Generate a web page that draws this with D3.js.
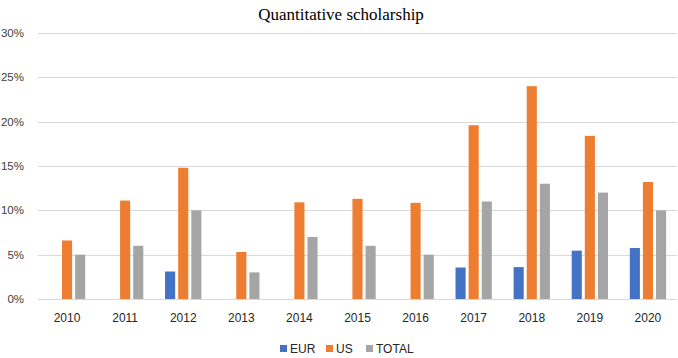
<!DOCTYPE html>
<html>
<head>
<meta charset="utf-8">
<script src="https://cdn.jsdelivr.net/npm/d3@7"></script>
<style>
  body { margin: 0; background: #fff; }
  svg text { font-family: "Liberation Sans", Arial, sans-serif; }
</style>
</head>
<body>
<svg id="chart" width="678" height="358"></svg>
<script>
// data
const years = ["2010", "2011", "2012", "2013", "2014", "2015", "2016", "2017", "2018", "2019", "2020"];
const seriesNames = ["EUR", "US", "TOTAL"];
const eurValues = [null, null, 3.1, null, null, null, null, 3.55, 3.6, 5.45, 5.75];
const usValues = [6.6, 11.1, 14.8, 5.3, 10.9, 11.3, 10.85, 19.6, 24.0, 18.4, 13.2];
const totalValues = [5, 6, 10, 3, 7, 6, 5, 11, 13, 12, 10];
const yTicks = [0, 5, 10, 15, 20, 25, 30];
const colors = ["#4472C4", "#ED7D31", "#A5A5A5"];

const rows = years.map((y, i) => ({
  year: y,
  EUR: eurValues[i],
  US: usValues[i],
  TOTAL: totalValues[i]
}));

const svg = d3.select("#chart");
const margin = { left: 38, right: 1, top: 33, bottom: 59 };
const width = 678 - margin.left - margin.right;
const height = 358 - margin.top - margin.bottom;

const g = svg.append("g").attr("transform", `translate(${margin.left},${margin.top})`);

const x0 = d3.scaleBand().domain(years).range([0, width]).paddingInner(0.375).paddingOuter(0.1875);
const x1 = d3.scaleBand().domain(seriesNames).range([0, x0.bandwidth()]).paddingInner(0.23);
const y = d3.scaleLinear().domain([0, 30]).range([height, 0]);
const color = d3.scaleOrdinal().domain(seriesNames).range(colors);

// gridlines
g.selectAll(".grid")
  .data(yTicks)
  .enter()
  .append("line")
  .attr("x1", 0)
  .attr("x2", width)
  .attr("y1", d => Math.round(y(d)) + 0.5)
  .attr("y2", d => Math.round(y(d)) + 0.5)
  .attr("stroke", "#d9d9d9")
  .attr("stroke-width", 1.2);

// y tick labels
g.selectAll(".ylab")
  .data(yTicks)
  .enter()
  .append("text")
  .attr("x", -14)
  .attr("y", d => y(d))
  .attr("dy", "0.35em")
  .attr("text-anchor", "end")
  .attr("font-size", 11.5)
  .attr("fill", "#404040")
  .text(d => d + "%");

// bars
const groups = g.selectAll(".year")
  .data(rows)
  .enter()
  .append("g")
  .attr("transform", d => `translate(${x0(d.year)},0)`);

groups.selectAll("rect")
  .data(d => seriesNames.filter(s => d[s] != null).map(s => ({ key: s, value: d[s] })))
  .enter()
  .append("rect")
  .attr("x", d => x1(d.key))
  .attr("y", d => y(d.value))
  .attr("width", x1.bandwidth())
  .attr("height", d => height - y(d.value))
  .attr("fill", d => color(d.key));

// x labels
g.selectAll(".xlab")
  .data(years)
  .enter()
  .append("text")
  .attr("x", d => x0(d) + x0.bandwidth() / 2)
  .attr("y", height + 23)
  .attr("text-anchor", "middle")
  .attr("font-size", 12)
  .attr("fill", "#262626")
  .text(d => d);

// title
svg.append("text")
  .attr("x", 341)
  .attr("y", 20)
  .attr("text-anchor", "middle")
  .attr("font-size", 17)
  .attr("fill", "#000")
  .style("font-family", "'Liberation Serif', 'Times New Roman', serif")
  .text("Quantitative scholarship");

// legend
const legendX = [280, 326, 366];
const legend = svg.selectAll(".legend")
  .data(seriesNames)
  .enter()
  .append("g")
  .attr("transform", (d, i) => `translate(${legendX[i]},349)`);

legend.append("rect")
  .attr("x", 0)
  .attr("y", -4)
  .attr("width", 7)
  .attr("height", 7)
  .attr("fill", d => color(d));

legend.append("text")
  .attr("x", 10)
  .attr("y", 0)
  .attr("dy", "0.35em")
  .attr("font-size", 12)
  .attr("fill", "#262626")
  .text(d => d);
</script>
</body>
</html>
